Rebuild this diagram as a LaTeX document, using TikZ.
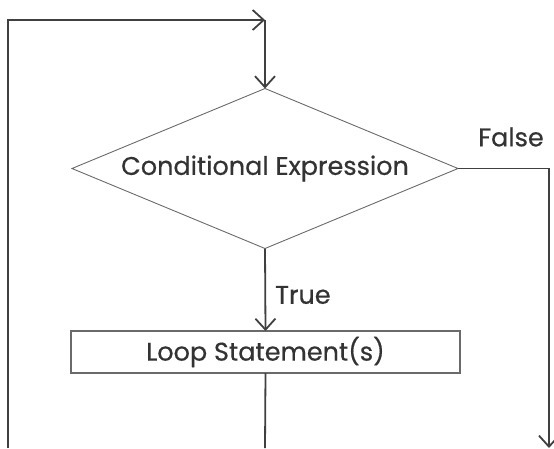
\documentclass[tikz,border=0pt]{standalone}
\usepackage{fontspec}
\setmainfont{Poppins}[FakeBold=0.5,AutoFakeBold=0.5]
\usetikzlibrary{arrows.meta,shapes.geometric}
\definecolor{ink}{HTML}{333333}
\definecolor{wire}{HTML}{404040}
\definecolor{edge}{HTML}{6A6A6A}
\tikzset{
  conn/.style={draw=wire, line width=1.8pt},
  arr/.style={-{Straight Barb[length=11pt,width=20pt,line width=1.8pt]}},
  decision/.style={diamond, draw=edge, line width=0.9pt, inner sep=0pt, outer sep=0pt,
    minimum width=386pt, minimum height=160pt, aspect=2.4},
  stepbox/.style={rectangle, draw=edge, line width=1.3pt, inner sep=0pt, outer sep=0pt,
    minimum width=389pt, minimum height=42pt},
  lbl/.style={text=ink, font=\fontsize{25.5}{30}\selectfont\bfseries, inner sep=0pt}
}
\begin{document}
\begin{tikzpicture}[x=1pt,y=-1pt]
  \useasboundingbox (0,0) rectangle (554,448);
  % decision and loop body
  \node[decision, lbl] (cond) at (265,168.5) {Conditional Expression};
  \node[stepbox, lbl] (loop) at (265.5,352) {Loop Statement(s)};
  % route points of the loop-back and exit paths
  \coordinate (tm) at (265,20);
  \coordinate (bl) at (8,448);
  \coordinate (exitend) at (549,448);
  \coordinate (loopend) at (265,448);
  % connectors
  \draw[conn, arr] (bl) |- (tm);
  \draw[conn, arr] (tm) -- (cond.north);
  \draw[conn, arr] (cond.east) -| (exitend);
  \draw[conn, arr] (cond.south) -- (loop.north);
  \draw[conn] (loop.south) -- (loopend);
  % branch labels
  \node[lbl, anchor=west] (truelbl) at (275,295) {True};
  \node[lbl] (falselbl) at (511,137) {False};
\end{tikzpicture}
\end{document}
